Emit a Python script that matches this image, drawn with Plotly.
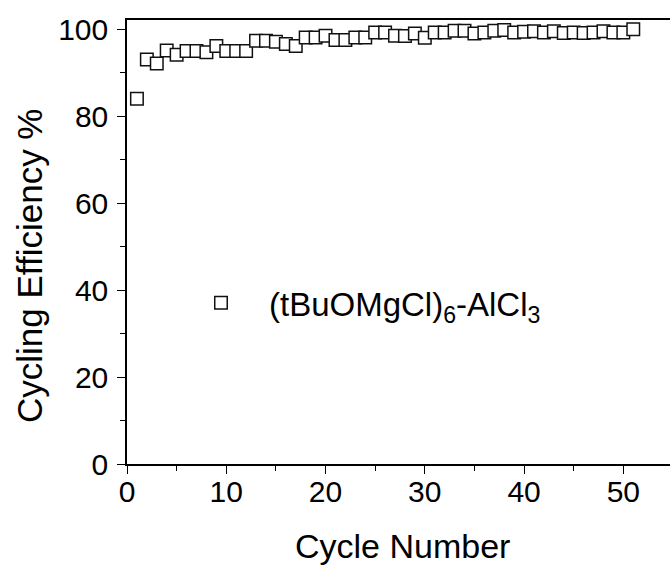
import plotly.graph_objects as go

cycles = list(range(1, 52))
efficiency = [84.0, 93.0, 92.1, 95.1, 94.1, 95.0, 95.0, 94.7, 96.1, 95.0,
              95.0, 95.0, 97.3, 97.3, 97.1, 96.6, 96.1, 98.1, 98.1, 98.5,
              97.5, 97.5, 98.1, 98.1, 99.2, 99.2, 98.5, 98.4, 99.0, 98.0,
              99.2, 99.2, 99.6, 99.6, 99.0, 99.2, 99.6, 99.8, 99.2, 99.4,
              99.5, 99.2, 99.5, 99.1, 99.2, 99.1, 99.2, 99.5, 99.2, 99.2, 100.0]
series_name = "(tBuOMgCl)<sub>6</sub>-AlCl<sub>3</sub>"
x_title = "Cycle Number"
y_title = "Cycling Efficiency %"

FONT = "Arial, Liberation Sans, sans-serif"

fig = go.Figure()
fig.add_trace(go.Scatter(
    x=cycles, y=efficiency, mode="markers", name=series_name,
    marker=dict(symbol="square", size=12.5, color="white",
                line=dict(color="#111111", width=1.5)),
    showlegend=True,
))

fig.update_layout(
    width=670, height=565,
    margin=dict(l=127, r=0, t=20, b=101),
    paper_bgcolor="white", plot_bgcolor="white",
    font=dict(family=FONT, color="black"),
    showlegend=True,
    legend=dict(x=0.0847, y=0.363, xanchor="left", yanchor="middle",
                bgcolor="rgba(0,0,0,0)", borderwidth=0,
                font=dict(family=FONT, size=33, color="black"),
                itemwidth=86),
    xaxis=dict(range=[0, 54.7], showgrid=False, zeroline=False,
               showline=True, linecolor="black", linewidth=1.5, mirror=True,
               ticks="outside", ticklen=8, tickwidth=1.2, tickcolor="black",
               tick0=0, dtick=10, ticklabelstandoff=-8,
               minor=dict(ticks="outside", ticklen=5, tickwidth=1.2,
                          tickcolor="black", dtick=5, tick0=0, showgrid=False),
               tickfont=dict(family=FONT, size=30, color="black")),
    yaxis=dict(range=[0, 102.1], showgrid=False, zeroline=False,
               showline=True, linecolor="black", linewidth=1.5, mirror=False,
               ticks="outside", ticklen=8, tickwidth=1.2, tickcolor="black",
               tick0=0, dtick=20, ticklabelstandoff=3,
               minor=dict(ticks="outside", ticklen=5, tickwidth=1.2,
                          tickcolor="black", dtick=10, tick0=0, showgrid=False),
               tickfont=dict(family=FONT, size=30, color="black")),
    annotations=[
        dict(text=x_title, xref="paper", yref="paper", x=0.507,
             y=(464 - 546) / 444, xanchor="center", yanchor="middle",
             showarrow=False, font=dict(family=FONT, size=34, color="black")),
        dict(text=y_title, xref="paper", yref="paper", x=(29 - 127) / 543,
             y=(464 - 266) / 444, xanchor="center", yanchor="middle",
             textangle=-90, showarrow=False,
             font=dict(family=FONT, size=35, color="black")),
    ],
)

fig.write_html("out.html",
               config={"displayModeBar": False},
               post_script="document.body.style.margin='0';document.body.style.padding='0';")
